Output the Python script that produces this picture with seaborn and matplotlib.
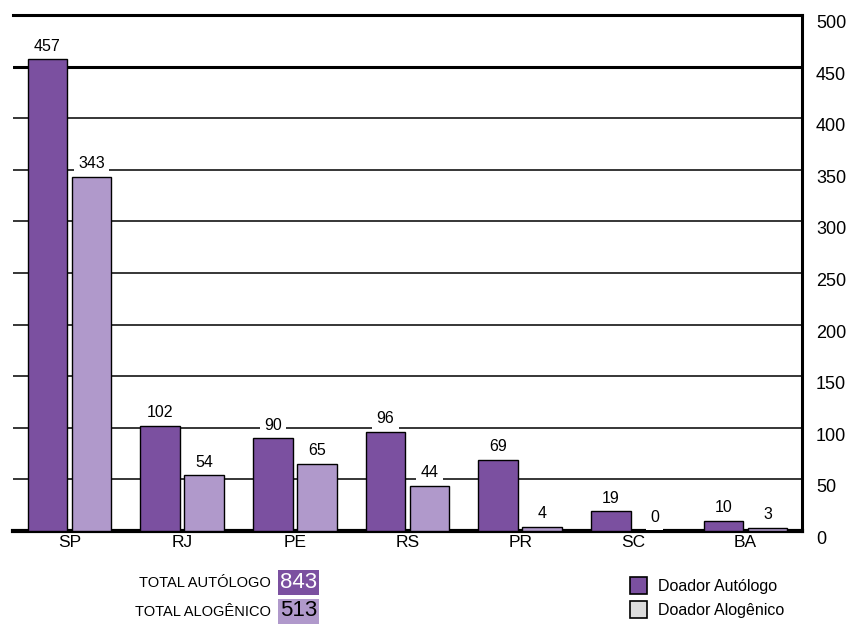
import pandas as pd
import seaborn as sns
import matplotlib.pyplot as plt
import matplotlib.patches as mpatches

# data
states = ['SP', 'RJ', 'PE', 'RS', 'PR', 'SC', 'BA']
autologo = [457, 102, 90, 96, 69, 19, 10]
alogenico = [343, 54, 65, 44, 4, 0, 3]
series_names = ['Doador Autólogo', 'Doador Alogênico']
total_autologo = 843
total_alogenico = 513
y_ticks = list(range(0, 501, 50))

dark_purple = '#7B50A0'
light_purple = '#B099CB'
legend_gray = '#DCDCDC'

df = pd.DataFrame({
    'Estado': states * 2,
    'Doadores': autologo + alogenico,
    'Tipo': [series_names[0]] * len(states) + [series_names[1]] * len(states),
})

sns.set_style('white')
plt.rcParams['font.family'] = ['Liberation Sans', 'DejaVu Sans']
plt.rcParams['text.color'] = 'black'
plt.rcParams['xtick.color'] = 'black'
plt.rcParams['ytick.color'] = 'black'

fig = plt.figure(figsize=(8.5, 6.27), dpi=100)
ax = fig.add_axes([13 / 850, 96 / 627, 789 / 850, 516 / 627])

sns.barplot(
    data=df, x='Estado', y='Doadores', hue='Tipo', order=states,
    hue_order=series_names, palette=[dark_purple, light_purple],
    width=0.78, gap=0.1, edgecolor='black', linewidth=1.0,
    saturation=1, legend=False, ax=ax, zorder=3
)

# value labels with white boxes cutting the grid lines
for cont in ax.containers:
    ax.bar_label(cont, padding=4, fontsize=11.5, zorder=4,
                 bbox=dict(facecolor='white', edgecolor='none', pad=3))

# horizontal grid
for t in y_ticks[1:-1]:
    ax.axhline(t, color='black', lw=2.2 if t == 450 else 1.1, zorder=1)

ax.set_xlim(-0.5, len(states) - 0.5)
ax.set_ylim(0, 500)
ax.set_yticks(y_ticks)
ax.yaxis.tick_right()
ax.tick_params(axis='y', length=0, pad=10, labelsize=13)
ax.tick_params(axis='x', length=0, pad=3, labelsize=12.5)
for lbl in ax.get_yticklabels():
    lbl.set_va('top')
ax.set_xlabel('')
ax.set_ylabel('')

ax.spines['left'].set_visible(False)
ax.spines['top'].set_linewidth(2.2)
ax.spines['right'].set_linewidth(2.2)
ax.spines['bottom'].set_linewidth(3)
for s in ax.spines.values():
    s.set_color('black')

# totals under the chart
fig.text(271 / 850, 1 - 583 / 627, 'TOTAL AUTÓLOGO', ha='right', va='center', fontsize=10.5)
fig.text(280 / 850, 1 - 582 / 627, str(total_autologo), ha='left', va='center',
         fontsize=16, color='white',
         bbox=dict(facecolor=dark_purple, edgecolor='none', pad=1.5))
fig.text(271 / 850, 1 - 612 / 627, 'TOTAL ALOGÊNICO', ha='right', va='center', fontsize=10.5)
fig.text(280 / 850, 1 - 611 / 627, str(total_alogenico), ha='left', va='center',
         fontsize=16, color='black',
         bbox=dict(facecolor=light_purple, edgecolor='none', pad=1.5))

handles = [
    mpatches.Patch(facecolor=dark_purple, edgecolor='black', linewidth=1.2, label=series_names[0]),
    mpatches.Patch(facecolor=legend_gray, edgecolor='black', linewidth=1.2, label=series_names[1]),
]
fig.legend(handles=handles, loc='upper left', bbox_to_anchor=(624 / 850, 1 - 571 / 627),
           frameon=False, fontsize=11.5, handlelength=1.05, handleheight=1.25,
           handletextpad=0.7, labelspacing=0.45, borderaxespad=0)

fig.savefig('out.png', dpi=100)
